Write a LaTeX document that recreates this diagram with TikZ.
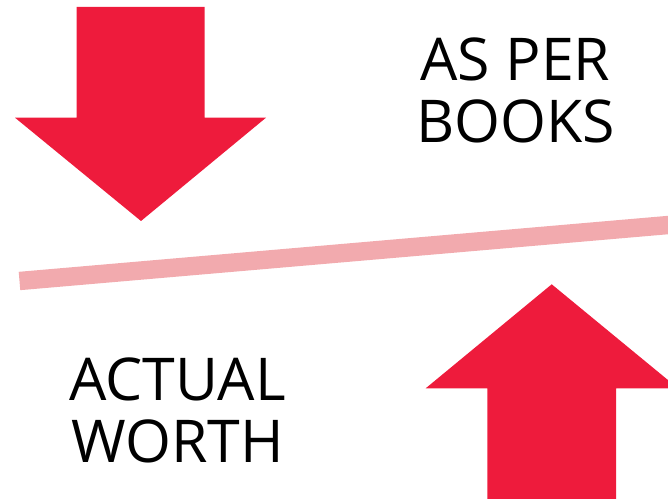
\documentclass[tikz,border=0pt]{standalone}
\usepackage{fontspec}
\setmainfont{Open Sans}
\usetikzlibrary{positioning}
\definecolor{arrowred}{RGB}{238,27,60}
\definecolor{linepink}{RGB}{242,170,174}

\begin{document}
\begin{tikzpicture}[
  x=1pt, y=1pt,
  bigarrow/.style={fill=arrowred, draw=none},
  divider/.style={draw=linepink, line width=18.4pt},
  caption/.style={font=\fontsize{59}{62}\selectfont, align=center,
                  inner sep=0pt, text=black}]
\useasboundingbox (0,0) rectangle (668,498);
\clip (0,0) rectangle (668,498);

% ---- the sloping line between the two arrows ----------------------------
\coordinate (lineL) at (19.5,217);
\coordinate (lineR) at (680,274);
\draw[divider] (lineL)--(lineR);

% ---- arrow pointing down, top left ------------------------------------
\coordinate (dn) at (141,277);
\fill[bigarrow] (dn)--++(-126,103.3)--++(61.7,0)--++(0,110.7)
  --++(128,0)--++(0,-110.7)--++(61.3,0)--cycle;

% ---- arrow pointing up, bottom right -----------------------------------
\coordinate (up) at (551.7,213.7);
\fill[bigarrow] (up)--++(-126,-104)--++(61.6,0)--++(0,-120)
  --++(128.7,0)--++(0,120)--++(62,0)--cycle;

% ---- the two captions --------------------------------------------------
\node[caption] (books) at (515.5,407.5) {AS PER\\BOOKS};
\node[caption] (worth) at (177.5,87.5) {ACTUAL\\WORTH};
\end{tikzpicture}
\end{document}
